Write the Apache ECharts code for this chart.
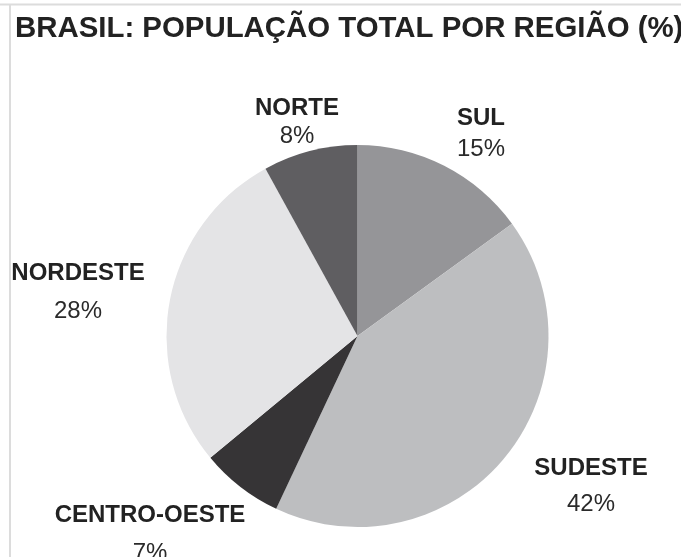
<!DOCTYPE html>
<html>
<head>
<meta charset="utf-8">
<script src="https://cdn.jsdelivr.net/npm/echarts@6/dist/echarts.min.js"></script>
<style>
  html, body { margin: 0; padding: 0; background: #fff; }
  #main { width: 681px; height: 557px; }
</style>
</head>
<body>
<div id="main"></div>
<script>
  // dados (%)
  var regioes = ["SUL", "SUDESTE", "CENTRO-OESTE", "NORDESTE", "NORTE"];
  var valores = [15, 42, 7, 28, 8];
  var cores = ["#959598", "#bdbec0", "#363436", "#e4e4e6", "#5f5e61"];

  // posição dos rótulos (centro do bloco) e espaço entre as linhas
  var rotulos = [
    { x: 481, y: 134, lh: 31 },
    { x: 591, y: 486, lh: 36 },
    { x: 150, y: 534, lh: 38 },
    { x: 78, y: 292, lh: 38 },
    { x: 297, y: 122, lh: 28 }
  ];

  var chart = echarts.init(document.getElementById("main"));

  var dados = regioes.map(function(nome, i) {
    return {
      name: nome,
      value: valores[i],
      itemStyle: { color: cores[i] },
      label: {
        rich: {
          b: { fontWeight: "bold", fontSize: 24, color: "#222", lineHeight: rotulos[i].lh, fontFamily: "Liberation Sans" },
          p: { fontSize: 24, color: "#2a2a2a", lineHeight: rotulos[i].lh, fontFamily: "Liberation Sans" }
        }
      }
    };
  });

  chart.setOption({
    animation: false,
    title: {
      text: "BRASIL: POPULAÇÃO TOTAL POR REGIÃO (%)",
      left: 10,
      top: 9,
      textStyle: {
        fontFamily: "Liberation Sans",
        fontWeight: "bold",
        fontSize: 29.4,
        color: "#222"
      }
    },
    graphic: [
      { type: "line", shape: { x1: 0, y1: 4.5, x2: 681, y2: 4.5 }, style: { stroke: "#dcdcdc", lineWidth: 2 } },
      { type: "line", shape: { x1: 10, y1: 4, x2: 10, y2: 557 }, style: { stroke: "#dcdcdc", lineWidth: 2 } }
    ],
    series: [
      {
        type: "pie",
        center: [357.5, 336],
        radius: 191,
        startAngle: 90,
        clockwise: true,
        label: {
          show: true,
          position: "outside",
          overflow: "none",
          formatter: function(p) {
            return "{b|" + p.name + "}\n{p|" + p.value + "%}";
          }
        },
        labelLine: { show: false },
        labelLayout: function(params) {
          var r = rotulos[params.dataIndex];
          return { x: r.x, y: r.y, align: "center", verticalAlign: "middle" };
        },
        emphasis: { disabled: true },
        data: dados
      }
    ]
  });
</script>
</body>
</html>
